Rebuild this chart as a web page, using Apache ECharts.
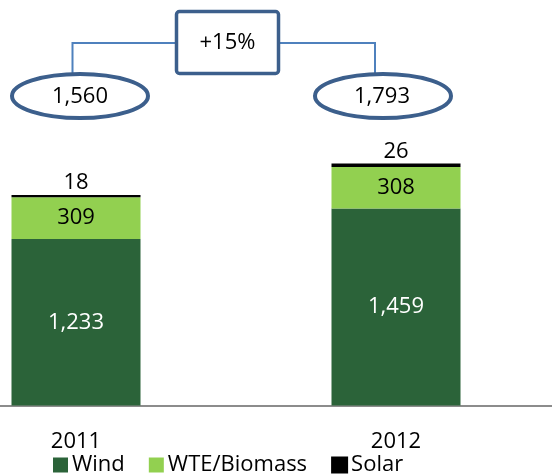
<!DOCTYPE html>
<html>
<head>
<meta charset="utf-8">
<script src="https://cdn.jsdelivr.net/npm/echarts@6/dist/echarts.min.js"></script>
<style>
  html, body { margin: 0; padding: 0; background: #fff; }
  #chart_area { width: 552px; height: 476px; }
</style>
</head>
<body>
<div id="chart_area"></div>
<script>
const years = ['2011', '2012'];
const windValues = [1233, 1459];
const biomassValues = [309, 308];
const solarValues = [18, 26];

displayCapacityBars();

function displayCapacityBars() {
    let myChart = echarts.init(document.getElementById('chart_area'));

    const fontFamily = '"Open Sans", "Liberation Sans", sans-serif';
    const boxBlue = '#3c5f8c';
    const lineBlue = '#4f81bd';

    // totals for the ellipses and growth for the box
    let totals = years.map((y, i) => windValues[i] + biomassValues[i] + solarValues[i]);
    let growth = Math.round((totals[1] / totals[0] - 1) * 100);
    let fmt = v => v.toLocaleString('en-US');

    let option = {
        animation: false,
        grid: {
            left: -84,
            right: -4,
            top: 135.5,
            bottom: 70.5,
            outerBoundsMode: 'none'
        },
        xAxis: {
            type: 'category',
            data: years,
            axisLine: { lineStyle: { color: '#8c8c8c', width: 2 } },
            axisTick: { length: 8, lineStyle: { color: '#8c8c8c', width: 2 } },
            axisLabel: { color: '#000', fontSize: 22, fontFamily: fontFamily, margin: 25 }
        },
        yAxis: {
            type: 'value',
            min: 0,
            max: 2000,
            show: false,
            splitLine: { show: false }
        },
        legend: {
            left: 53,
            top: 454,
            padding: 0,
            itemWidth: 15,
            itemHeight: 15,
            itemGap: 24,
            icon: 'rect',
            textStyle: { fontSize: 22, fontFamily: fontFamily, color: '#000', padding: [0, 0, 0, -1] },
            data: ['Wind', 'WTE/Biomass', 'Solar']
        },
        series: [
            {
                name: 'Wind',
                type: 'bar',
                stack: 'total',
                barWidth: 129,
                data: windValues,
                itemStyle: { color: '#2b6339' },
                label: {
                    show: true,
                    position: 'inside',
                    color: '#fff',
                    fontSize: 22,
                    fontFamily: fontFamily,
                    formatter: p => fmt(p.value)
                }
            },
            {
                name: 'WTE/Biomass',
                type: 'bar',
                stack: 'total',
                data: biomassValues,
                itemStyle: { color: '#92d050' },
                label: {
                    show: true,
                    position: 'inside',
                    color: '#000',
                    fontSize: 22,
                    fontFamily: fontFamily
                }
            },
            {
                name: 'Solar',
                type: 'bar',
                stack: 'total',
                data: solarValues,
                itemStyle: { color: '#000', borderColor: '#000', borderWidth: 1.5 },
                label: {
                    show: true,
                    position: 'top',
                    distance: 1,
                    color: '#000',
                    fontSize: 22,
                    fontFamily: fontFamily
                }
            }
        ],
        graphic: [
            {
                type: 'polyline',
                shape: { points: [[176.5, 43], [72.5, 43], [72.5, 73]] },
                style: { stroke: lineBlue, lineWidth: 2, fill: null }
            },
            {
                type: 'polyline',
                shape: { points: [[278.5, 43], [375, 43], [375, 73]] },
                style: { stroke: lineBlue, lineWidth: 2, fill: null }
            },
            {
                type: 'rect',
                shape: { x: 176.5, y: 11.5, width: 102, height: 62, r: 3 },
                style: { fill: '#fff', stroke: boxBlue, lineWidth: 3.5 }
            },
            {
                type: 'text',
                x: 227.5,
                y: 43,
                style: {
                    text: '+' + growth + '%',
                    fill: '#000',
                    font: '22px ' + fontFamily,
                    align: 'center',
                    verticalAlign: 'middle'
                }
            },
            {
                type: 'ellipse',
                shape: { cx: 80, cy: 96, rx: 68, ry: 22 },
                style: { fill: '#fff', stroke: boxBlue, lineWidth: 4 }
            },
            {
                type: 'text',
                x: 80,
                y: 97,
                style: {
                    text: fmt(totals[0]),
                    fill: '#000',
                    font: '22px ' + fontFamily,
                    align: 'center',
                    verticalAlign: 'middle'
                }
            },
            {
                type: 'ellipse',
                shape: { cx: 383, cy: 96, rx: 68, ry: 22 },
                style: { fill: '#fff', stroke: boxBlue, lineWidth: 4 }
            },
            {
                type: 'text',
                x: 382,
                y: 97,
                style: {
                    text: fmt(totals[1]),
                    fill: '#000',
                    font: '22px ' + fontFamily,
                    align: 'center',
                    verticalAlign: 'middle'
                }
            }
        ]
    };

    myChart.setOption(option);
}
</script>
</body>
</html>
